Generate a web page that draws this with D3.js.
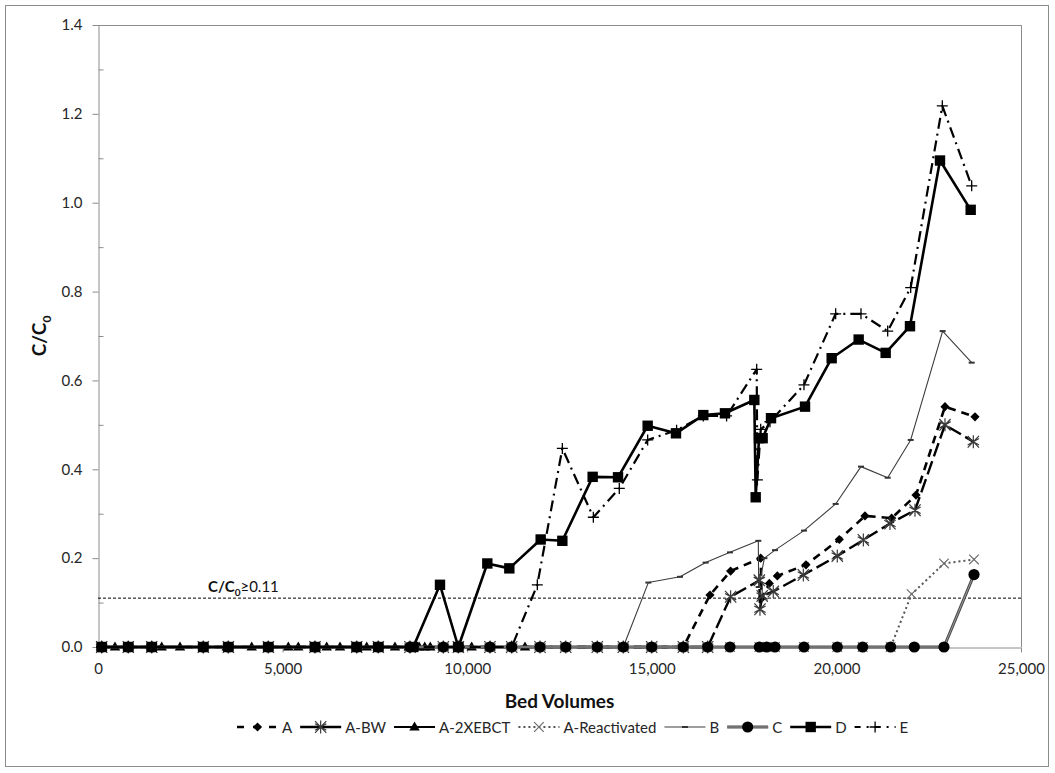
<!DOCTYPE html>
<html>
<head>
<meta charset="utf-8">
<script src="https://cdn.jsdelivr.net/npm/d3@7"></script>
<style>
  body { margin: 0; background: #fff; }
  svg { display: block; }
  text { font-family: Lato, "Open Sans", "DejaVu Sans", sans-serif; }
</style>
</head>
<body>
<svg id="chart" width="1055" height="773"></svg>
<script>
// ---- Breakthrough data: bed volumes treated vs. C/C0 for each column ----
const seriesNames = ["A", "A-BW", "A-2XEBCT", "A-Reactivated", "B", "C", "D", "E"];

const aBV  = [100, 820, 1455, 2852, 3530, 4613, 5878, 7007, 7592, 8450, 9353, 9760, 10617, 11205, 11972, 12668, 13524, 14228, 14997, 15853, 16576, 17135, 17949, 17976, 18183, 18400, 19176, 20078, 20774, 21497, 22156, 22941, 23754];
const aVal = [0, 0, 0, 0, 0, 0, 0, 0, 0, 0, 0, 0, 0, 0, 0, 0, 0, 0, 0, 0, 0.117, 0.171, 0.200, 0.110, 0.143, 0.160, 0.185, 0.242, 0.295, 0.290, 0.342, 0.541, 0.518];

const abwBV  = [100, 820, 1455, 2852, 3530, 4613, 5878, 7007, 7592, 8450, 9353, 9760, 10617, 11205, 11972, 12668, 13524, 14228, 14997, 15853, 16514, 17135, 17912, 17930, 17990, 18290, 19104, 20024, 20730, 21451, 22129, 22941, 23709];
const abwVal = [0, 0, 0, 0, 0, 0, 0, 0, 0, 0, 0, 0, 0, 0, 0, 0, 0, 0, 0, 0, 0, 0.113, 0.150, 0.085, 0.115, 0.125, 0.162, 0.205, 0.241, 0.278, 0.308, 0.500, 0.462];

const a2xBV  = [100, 460, 820, 1455, 1725, 2221, 2852, 3485, 4163, 4613, 5155, 5425, 5878, 6194, 6555, 7007, 7278, 7592, 8044, 8420, 8560, 8700, 8850, 9000, 9353, 10121, 10617, 11565];
const a2xVal = [0, 0, 0, 0, 0, 0, 0, 0, 0, 0, 0, 0, 0, 0, 0, 0, 0, 0, 0, 0, 0, 0, 0, 0, 0, 0, 0, 0];

const arBV  = [100, 820, 1455, 2852, 3530, 4613, 5878, 7007, 7592, 8450, 9353, 9760, 10617, 11205, 11972, 12668, 13524, 14228, 14997, 15853, 16514, 17118, 17912, 18112, 18337, 19122, 20024, 20712, 21470, 22038, 22914, 23727];
const arVal = [0, 0, 0, 0, 0, 0, 0, 0, 0, 0, 0, 0, 0, 0, 0, 0, 0, 0, 0, 0, 0, 0, 0, 0, 0, 0, 0, 0, 0, 0.119, 0.188, 0.197];

const bBV  = [100, 820, 1455, 2852, 3530, 4613, 5878, 7007, 7592, 8450, 9353, 9760, 10617, 11205, 11972, 12668, 13524, 14228, 14906, 15764, 16459, 17118, 17885, 17895, 18050, 18337, 19122, 19980, 20666, 21389, 22012, 22878, 23664];
const bVal = [0, 0, 0, 0, 0, 0, 0, 0, 0, 0, 0, 0, 0, 0, 0, 0, 0, 0, 0.145, 0.158, 0.190, 0.213, 0.239, 0.135, 0.200, 0.218, 0.262, 0.322, 0.406, 0.381, 0.466, 0.711, 0.640];

const cBV  = [100, 820, 1455, 2852, 3530, 4613, 5878, 7007, 7592, 8450, 9353, 9760, 10617, 11205, 11972, 12668, 13524, 14228, 14997, 15853, 16514, 17118, 17912, 18112, 18337, 19122, 20024, 20712, 21470, 22110, 22914, 23727];
const cVal = [0, 0, 0, 0, 0, 0, 0, 0, 0, 0, 0, 0, 0, 0, 0, 0, 0, 0, 0, 0, 0, 0, 0, 0, 0, 0, 0, 0, 0, 0, 0, 0.163];

const dBV  = [100, 820, 1455, 2852, 3530, 4613, 5878, 7007, 7592, 8540, 9263, 9760, 10545, 11141, 11990, 12577, 13398, 14085, 14888, 15655, 16395, 16982, 17777, 17814, 17904, 18002, 18229, 19150, 19872, 20603, 21334, 21993, 22806, 23637];
const dVal = [0, 0, 0, 0, 0, 0, 0, 0, 0, 0, 0.140, 0, 0.188, 0.177, 0.242, 0.239, 0.383, 0.382, 0.498, 0.481, 0.522, 0.526, 0.556, 0.337, 0.470, 0.470, 0.515, 0.541, 0.650, 0.692, 0.662, 0.722, 1.095, 0.984];

const eBV  = [100, 820, 1455, 2852, 3530, 4613, 5878, 7007, 7592, 8450, 9353, 9760, 10617, 11205, 11899, 12577, 13417, 14120, 14888, 15672, 16395, 17026, 17841, 17860, 17950, 18201, 19122, 19980, 20666, 21389, 22012, 22869, 23664];
const eVal = [0, 0, 0, 0, 0, 0, 0, 0, 0, 0, 0, 0, 0, 0, 0.140, 0.447, 0.292, 0.357, 0.466, 0.488, 0.520, 0.520, 0.625, 0.376, 0.490, 0.507, 0.590, 0.750, 0.750, 0.711, 0.809, 1.218, 1.038];

const threshold = 0.11;
const yTicks = [0, 0.2, 0.4, 0.6, 0.8, 1.0, 1.2, 1.4];
const yMinorTicks = [0.1, 0.3, 0.5, 0.7, 0.9, 1.1, 1.3];
const xTicks = [0, 5000, 10000, 15000, 20000, 25000];

// ---- Marker shapes (d3.symbol types; size = radius squared) ----
const mk = {
  diamond: { draw(c, s) { const r = Math.sqrt(s); c.moveTo(0, -r); c.lineTo(r, 0); c.lineTo(0, r); c.lineTo(-r, 0); c.closePath(); } },
  asterisk: { draw(c, s) { const r = Math.sqrt(s), k = r * 0.87, h = r * 0.5;
    c.moveTo(0, -r); c.lineTo(0, r); c.moveTo(-k, -h); c.lineTo(k, h); c.moveTo(-k, h); c.lineTo(k, -h);
    c.moveTo(-k, -r * 0.9); c.lineTo(k, r * 0.9); c.moveTo(-k, r * 0.9); c.lineTo(k, -r * 0.9); } },
  triangle: { draw(c, s) { const r = Math.sqrt(s); c.moveTo(0, -r); c.lineTo(r * 0.95, r * 0.65); c.lineTo(-r * 0.95, r * 0.65); c.closePath(); } },
  times: { draw(c, s) { const r = Math.sqrt(s); c.moveTo(-r, -r); c.lineTo(r, r); c.moveTo(-r, r); c.lineTo(r, -r); } },
  dash: { draw(c, s) { const r = Math.sqrt(s); c.moveTo(-r, -1); c.lineTo(r, -1); c.lineTo(r, 1); c.lineTo(-r, 1); c.closePath(); } },
  circle: { draw(c, s) { const r = Math.sqrt(s); c.moveTo(r, 0); c.arc(0, 0, r, 0, 2 * Math.PI); } },
  square: { draw(c, s) { const r = Math.sqrt(s); c.rect(-r, -r, 2 * r, 2 * r); } },
  plus: { draw(c, s) { const r = Math.sqrt(s); c.moveTo(-r, 0); c.lineTo(r, 0); c.moveTo(0, -r); c.lineTo(0, r); } }
};

const series = [
  { name: seriesNames[0], bv: aBV,   val: aVal,   stroke: "#000", width: 2.6, dash: "8,6",      legendDash: "7,9",     sym: mk.diamond,  r: 4.6, fill: "#000", mstroke: "none", mw: 0 },
  { name: seriesNames[1], bv: abwBV, val: abwVal, stroke: "#000", width: 2.4, dash: "14,5",     legendDash: null,      sym: mk.asterisk, r: 6.5, fill: "none", mstroke: "#3a3a3a", mw: 1.2 },
  { name: seriesNames[2], bv: a2xBV, val: a2xVal, stroke: "#000", width: 2.2, dash: null,       legendDash: null,      sym: mk.triangle, r: 5.5, fill: "#000", mstroke: "none", mw: 0 },
  { name: seriesNames[3], bv: arBV,  val: arVal,  stroke: "#555", width: 2.0, dash: "2,3",      legendDash: "2,3",     sym: mk.times,    r: 4.8, fill: "none", mstroke: "#6e6e6e", mw: 1.2 },
  { name: seriesNames[4], bv: bBV,   val: bVal,   stroke: "#3c3c3c", width: 1.1, dash: null,    legendDash: null,      sym: mk.dash,     r: 3,   fill: "#333", mstroke: "none", mw: 0 },
  { name: seriesNames[5], bv: cBV,   val: cVal,   stroke: "#4a4a4a", width: 3.0, dash: null,    legendDash: null,      sym: mk.circle,   r: 5.6, fill: "#000", mstroke: "none", mw: 0, inner: "#9a9a9a" },
  { name: seriesNames[6], bv: dBV,   val: dVal,   stroke: "#000", width: 2.6, dash: null,       legendDash: null,      sym: mk.square,   r: 5.2, fill: "#000", mstroke: "none", mw: 0 },
  { name: seriesNames[7], bv: eBV,   val: eVal,   stroke: "#000", width: 2.2, dash: "11,5,2,5", legendDash: "6,6,2,6", sym: mk.plus,     r: 5.5, fill: "none", mstroke: "#000", mw: 1.3 }
];

// ---- Layout ----
const svg = d3.select("#chart");
const plot = { left: 98, right: 1021, top: 25, bottom: 647 };

const x = d3.scaleLinear().domain([0, 25000]).range([plot.left, plot.right]);
const y = d3.scaleLinear().domain([0, 1.4]).range([plot.bottom, plot.top]);

// outer chart frame
svg.append("rect")
  .attr("x", 5.5).attr("y", 5.5).attr("width", 1043).attr("height", 761)
  .attr("fill", "#fff").attr("stroke", "#8c8c8c").attr("stroke-width", 1);

// plot area border (top and right)
svg.append("path")
  .attr("d", `M${plot.left},${plot.top + 0.5}H${plot.right + 0.5}V${plot.bottom}`)
  .attr("fill", "none").attr("stroke", "#8c8c8c").attr("stroke-width", 1);

// y axis: major ticks outside with labels, minor ticks inside
svg.append("g")
  .attr("transform", `translate(${plot.left + 0.5},0)`)
  .call(d3.axisLeft(y).tickValues(yTicks).tickSize(6).tickSizeOuter(0).tickPadding(10).tickFormat(d3.format(".1f")));
svg.append("g")
  .attr("transform", `translate(${plot.left + 0.5},0)`)
  .call(d3.axisRight(y).tickValues(yMinorTicks).tickSize(5).tickSizeOuter(0).tickFormat(""))
  .select(".domain").remove();

// x axis
svg.append("g")
  .attr("transform", `translate(0,${plot.bottom + 0.5})`)
  .call(d3.axisBottom(x).tickValues(xTicks).tickSize(5).tickSizeOuter(0).tickPadding(11).tickFormat(d3.format(",")));

svg.selectAll(".domain, .tick line").attr("stroke", "#8c8c8c");
svg.selectAll(".tick text").attr("fill", "#262626").style("font-size", "15px").style("font-family", "Lato, 'Open Sans', sans-serif");

// axis titles
svg.append("text")
  .attr("x", (plot.left + plot.right) / 2).attr("y", 708)
  .attr("text-anchor", "middle").style("font-size", "19px").style("font-weight", "bold").attr("fill", "#111")
  .text("Bed Volumes");

const yTitle = svg.append("text")
  .attr("transform", `translate(46,${(plot.top + plot.bottom) / 2}) rotate(-90)`)
  .attr("text-anchor", "middle").style("font-size", "19px").style("font-weight", "bold").attr("fill", "#111");
yTitle.append("tspan").text("C/C");
yTitle.append("tspan").attr("dy", 5).style("font-size", "12px").text("0");

// threshold line and its label
svg.append("line")
  .attr("x1", plot.left).attr("x2", plot.right)
  .attr("y1", y(threshold)).attr("y2", y(threshold))
  .attr("stroke", "#000").attr("stroke-width", 1).attr("stroke-dasharray", "3,2");

const thLabel = svg.append("text")
  .attr("x", 208).attr("y", y(threshold) - 6)
  .style("font-size", "15px").attr("fill", "#111");
thLabel.append("tspan").style("font-weight", "bold").text("C/C");
thLabel.append("tspan").attr("dy", 4).style("font-size", "10px").style("font-weight", "bold").text("0");
thLabel.append("tspan").attr("dy", -4).text("≥" + d3.format(".2f")(threshold));

// ---- Series lines and markers ----
const line = d3.line().x(d => x(d[0])).y(d => y(d[1]));

series.forEach(s => {
  const pts = s.bv.map((b, i) => [b, s.val[i]]);
  const g = svg.append("g").attr("class", "series");
  g.append("path")
    .attr("d", line(pts))
    .attr("fill", "none")
    .attr("stroke", s.stroke)
    .attr("stroke-width", s.width)
    .attr("stroke-dasharray", s.dash)
    .attr("stroke-linejoin", "round");
  if (s.inner) {
    g.append("path")
      .attr("d", line(pts))
      .attr("fill", "none")
      .attr("stroke", s.inner)
      .attr("stroke-width", 1);
  }
  g.selectAll("path.m")
    .data(pts)
    .join("path")
    .attr("class", "m")
    .attr("transform", d => `translate(${x(d[0])},${y(d[1])})`)
    .attr("d", d3.symbol().type(s.sym).size(s.r * s.r))
    .attr("fill", s.fill)
    .attr("stroke", s.mstroke)
    .attr("stroke-width", s.mw);
});

// ---- Legend ----
const legend = svg.append("g").attr("transform", "translate(237,727)");
let lx = 0;
series.forEach(s => {
  const g = legend.append("g").attr("transform", `translate(${lx},0)`);
  g.append("line")
    .attr("x1", 0).attr("x2", 41).attr("y1", 0).attr("y2", 0)
    .attr("stroke", s.stroke).attr("stroke-width", s.width)
    .attr("stroke-dasharray", s.legendDash);
  if (s.inner) {
    g.append("line").attr("x1", 0).attr("x2", 41).attr("stroke", s.inner).attr("stroke-width", 1);
  }
  g.append("path")
    .attr("transform", "translate(20.5,0)")
    .attr("d", d3.symbol().type(s.sym).size(s.r * s.r))
    .attr("fill", s.fill).attr("stroke", s.mstroke).attr("stroke-width", s.mw);
  const t = g.append("text")
    .attr("x", 45).attr("y", 5.5)
    .style("font-size", "15px").attr("fill", "#262626")
    .text(s.name);
  lx += 45 + t.node().getComputedTextLength() + 8;
});
</script>
</body>
</html>
